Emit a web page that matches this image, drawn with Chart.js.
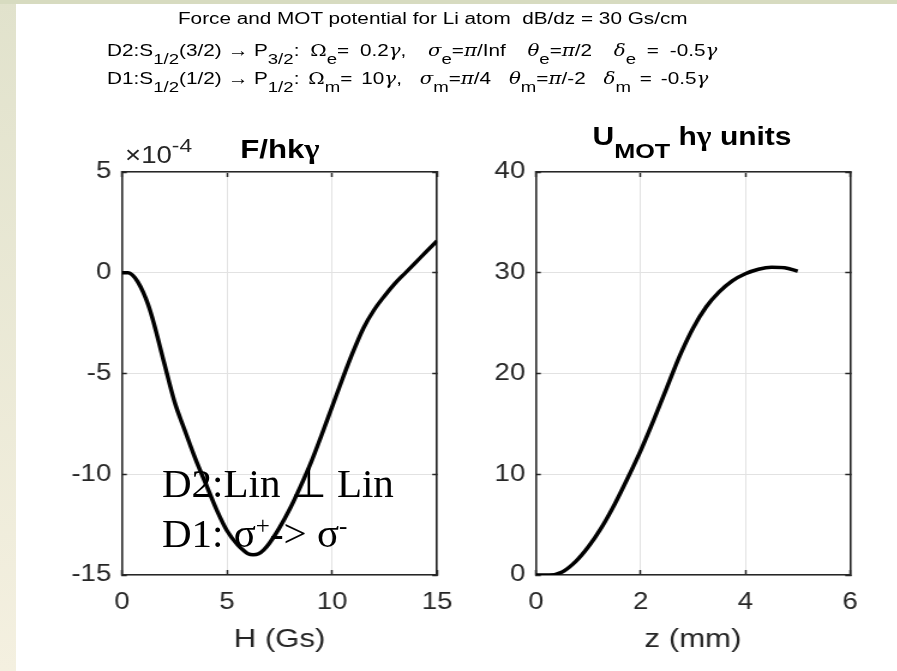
<!DOCTYPE html>
<html>
<head>
<meta charset="utf-8">
<script src="https://cdn.jsdelivr.net/npm/chart.js@4.4.1/dist/chart.umd.min.js"></script>
<style>
  html, body { margin: 0; padding: 0; width: 897px; height: 671px; overflow: hidden; background: #fff; }
  .strip-left { position: absolute; left: 0; top: 0; width: 16px; height: 671px;
    background: linear-gradient(#e1e2cc, #f4f0e0); }
  .strip-top { position: absolute; left: 0; top: 0; width: 897px; height: 4px; background: #d7dbc0; }
  /* the figure is drawn a bit wide, so the whole stage is stretched sideways */
  #stage { position: absolute; left: 0; top: 0; width: 747.5px; height: 671px;
    transform: scaleX(1.2); transform-origin: 0 0; }
  .plot { position: absolute; }
  .txt { position: absolute; white-space: pre; color: #000; font-family: "Liberation Sans", Arial, sans-serif; }
  .hdr { font-size: 17.3px; line-height: 17px; }
  .hdr .s { font-size: 15.5px; position: relative; top: 8px; }
  .gr { font-family: "DejaVu Serif", serif; font-style: italic; font-size: 16.5px; }
  .gu { font-family: "DejaVu Serif", serif; font-size: 16.5px; }
  .ttl { font-weight: bold; color: #000; text-align: center; }
  .ttl .gu { font-family: "Liberation Serif", serif; font-size: 1.05em; }
  #note { position: absolute; left: 162px; top: 458px; white-space: pre; color: #000;
    font-family: "Liberation Serif", "Times New Roman", serif; font-size: 41px; line-height: 50px; }
  #note .sup { font-size: 25px; position: relative; top: -13px; }
</style>
</head>
<body>
<div class="strip-left"></div>
<div class="strip-top"></div>

<div id="stage">
  <div class="txt hdr" style="left:148.3px; top:9.6px;">Force and MOT potential for Li atom  dB/dz = 30 Gs/cm</div>
  <div class="txt hdr" style="left:89.2px; top:42px;">D2:S<span class="s">1/2</span>(3/2) → P<span class="s">3/2</span>:<span style="word-spacing:4.2px"> <span class="gu">Ω</span><span class="s">e</span>= 0.2<span class="gr">γ</span>,  <span class="gr">σ</span><span class="s">e</span>=<span class="gr">π</span>/Inf  <span class="gr">θ</span><span class="s">e</span>=<span class="gr">π</span>/2  <span class="gr">δ</span><span class="s">e</span> = -0.5<span class="gr">γ</span></span></div>
  <div class="txt hdr" style="left:89.2px; top:70px;">D1:S<span class="s">1/2</span>(1/2) → P<span class="s">1/2</span>:<span style="word-spacing:2.6px"> <span class="gu">Ω</span><span class="s">m</span>= 10<span class="gr">γ</span>,  <span class="gr">σ</span><span class="s">m</span>=<span class="gr">π</span>/4  <span class="gr">θ</span><span class="s">m</span>=<span class="gr">π</span>/-2  <span class="gr">δ</span><span class="s">m</span> = -0.5<span class="gr">γ</span></span></div>

  <div class="txt ttl" style="left:133.3px; width:200px; top:136px; font-size:26px; line-height:26px;">F/hk<span class="gu">γ</span></div>
  <div class="txt" style="left:104.2px; top:144px; font-size:23px; line-height:23px; color:#262626;">×10<span style="font-size:19px; position:relative; top:-11px;">-4</span></div>
  <div class="txt ttl" style="left:426.7px; width:300px; top:124px; font-size:25px; line-height:25px;">U<span style="font-size:21px; position:relative; top:13px;">MOT</span> h<span class="gu">γ</span> units</div>

  <div class="plot" style="left:40px; top:150px; width:340px; height:521px;"><canvas id="forceChart"></canvas></div>
  <div class="plot" style="left:390px; top:150px; width:340px; height:521px;"><canvas id="potChart"></canvas></div>
</div>

<div id="note">D2:Lin ⊥ Lin
D1: σ<span class="sup">+</span>-&gt; σ<span class="sup">-</span></div>

<script>
// --- data ---
// left panel: force vs field, in units of 1e-4
const fieldGs = [0, 0.3, 0.5, 0.75, 1, 1.25, 1.5, 2, 2.5, 3, 3.5, 4, 4.5, 5, 5.5, 5.75, 6, 6.25, 6.5, 6.75, 7, 7.5,
  8, 8.5, 9, 9.5, 10, 10.5, 11, 11.5, 12, 12.5, 13, 13.5, 14, 14.5, 15];
const forceE4 = [0, 0, -0.12, -0.45, -0.95, -1.6, -2.45, -4.45, -6.4, -7.85, -9.25, -10.5, -11.75, -12.8, -13.5, -13.75, -13.95, -14.0, -13.95, -13.75, -13.45, -12.65,
  -11.7, -10.6, -9.41, -8.06, -6.66, -5.26, -3.93, -2.74, -1.85, -1.15, -0.53, 0.0, 0.53, 1.06, 1.58];
const forceTicksX = [0, 15, 5];     // min, max, step
const forceTicksY = [-15, 5, 5];

// right panel: MOT potential vs position
const posMm = [0, 0.25, 0.5, 0.75, 1, 1.25, 1.5, 1.75, 2, 2.25, 2.5, 2.75, 3, 3.25, 3.5, 3.75, 4, 4.25, 4.5, 4.75, 5];
const potential = [0, 0, 0.3, 1.3, 2.8, 4.7, 7.0, 9.6, 12.35, 15.4, 18.6, 21.8, 24.5, 26.6, 28.1, 29.2, 29.9, 30.35, 30.55, 30.5, 30.15];
const potTicksX = [0, 6, 2];
const potTicksY = [0, 40, 10];

const AXIS = '#262626';
const GRID = '#e2e2e2';
const SANS = '"Liberation Sans", Arial, sans-serif';

// labels hanging past the box should not shrink the plot area
const noOverhang = (s) => {
  s.paddingLeft = 0;
  s.paddingRight = 0;
  s.paddingTop = 0;
  s.paddingBottom = 0;
};

// --- chart builder (matlab-ish boxed axes with inward ticks) ---
const makeChart = (id, xs, ys, tx, ty, xTitle, yAxisWidth, padRight) => {
  const tickFont = { family: SANS, size: 23, lineHeight: 1.2 };
  const points = xs.map((x, i) => ({ x: x, y: ys[i] }));

  return new Chart(document.getElementById(id), {
    type: 'line',
    data: {
      datasets: [{
        data: points,
        xAxisID: 'x',
        yAxisID: 'y',
        borderColor: '#000',
        borderWidth: 3.5,
        pointRadius: 0,
        fill: false,
        cubicInterpolationMode: 'monotone'
      }]
    },
    options: {
      responsive: true,
      maintainAspectRatio: false,
      animation: false,
      events: [],
      layout: { padding: { top: 22, right: padRight, left: 0, bottom: 0 } },
      plugins: { legend: { display: false }, tooltip: { enabled: false } },
      scales: {
        x: {
          type: 'linear', position: 'bottom', min: tx[0], max: tx[1],
          ticks: { stepSize: tx[2], font: tickFont, color: AXIS, padding: 19, maxRotation: 0 },
          grid: { color: GRID, lineWidth: 1, tickLength: -5, tickColor: AXIS, tickWidth: 1.5 },
          border: { color: AXIS, width: 1.6 },
          title: { display: true, text: xTitle, color: AXIS,
            font: { family: SANS, size: 26, lineHeight: 1 }, padding: { top: 0, bottom: 18 } },
          afterFit: (s) => { s.height = 96; noOverhang(s); }
        },
        x2: {
          type: 'linear', position: 'top', min: tx[0], max: tx[1],
          ticks: { stepSize: tx[2], display: false },
          grid: { color: 'transparent', tickLength: -5, tickColor: AXIS, tickWidth: 1.5 },
          border: { color: AXIS, width: 1.6 },
          afterFit: (s) => { s.height = 0; noOverhang(s); }
        },
        y: {
          type: 'linear', position: 'left', min: ty[0], max: ty[1],
          ticks: { stepSize: ty[2], font: tickFont, color: AXIS, padding: 13 },
          grid: { color: GRID, lineWidth: 1, tickLength: -4, tickColor: AXIS, tickWidth: 1.5 },
          border: { color: AXIS, width: 1.6 },
          afterFit: (s) => { s.width = yAxisWidth; noOverhang(s); }
        },
        y2: {
          type: 'linear', position: 'right', min: ty[0], max: ty[1],
          ticks: { stepSize: ty[2], display: false },
          grid: { color: 'transparent', tickLength: -4, tickColor: AXIS, tickWidth: 1.5 },
          border: { color: AXIS, width: 1.6 },
          afterFit: (s) => { s.width = 0; noOverhang(s); }
        }
      }
    }
  });
};

makeChart('forceChart', fieldGs, forceE4, forceTicksX, forceTicksY, 'H (Gs)', 61.67, 15.83);
makeChart('potChart', posMm, potential, potTicksX, potTicksY, 'z (mm)', 56.67, 21.67);
</script>
</body>
</html>
